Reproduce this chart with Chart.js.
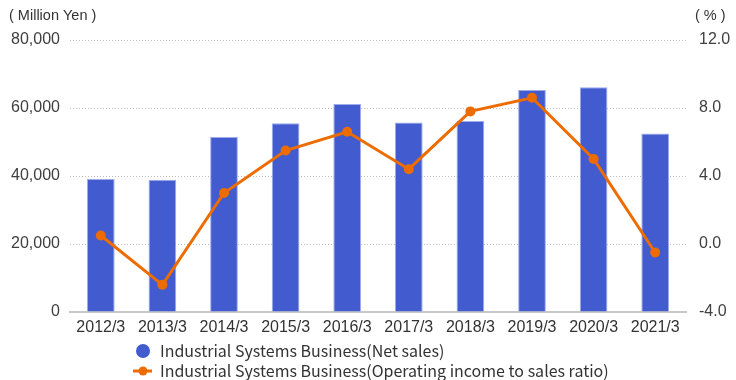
<!DOCTYPE html>
<html><head><meta charset="utf-8">
<script src="https://cdn.jsdelivr.net/npm/chart.js@4/dist/chart.umd.min.js"></script>
<style>html,body{margin:0;padding:0;background:#fff}#wrap{width:736px;height:380px}</style>
</head><body><div id="wrap"><canvas id="c" width="736" height="380"></canvas></div>
<script>
const categories = ['2012/3','2013/3','2014/3','2015/3','2016/3','2017/3','2018/3','2019/3','2020/3','2021/3'];
const netSales = [39100, 38900, 51500, 55500, 61200, 55700, 56200, 65300, 66100, 52500];
const opRatio = [0.5, -2.4, 3.0, 5.5, 6.6, 4.4, 7.8, 8.6, 5.0, -0.5];
const leftTicks = [0, 20000, 40000, 60000, 80000];
const rightTicks = [-4, 0, 4, 8, 12];
const seriesNames = ['Industrial Systems Business(Net sales)', 'Industrial Systems Business(Operating income to sales ratio)'];
const unitLabels = ['( Million Yen )', '( % )'];

const BAR = '#425CCF', BAR_BORDER = '#9DABEB', LINE = '#ED6C00';
const tickFont = {family: "'Liberation Sans', Arial, sans-serif", size: 16};

const extras = {
  id: 'extras',
  afterDraw(chart) {
    const ctx = chart.ctx;
    ctx.save();
    ctx.fillStyle = '#333';
    ctx.font = "14.5px 'Liberation Sans', Arial, sans-serif";
    ctx.textBaseline = 'middle';
    ctx.textAlign = 'left';
    ctx.fillText(unitLabels[0], 9, 16);
    ctx.fillText(unitLabels[1], 695, 16);
    // legend
    ctx.font = "16px 'Noto Sans CJK JP', 'Noto Sans', sans-serif";
    const lx = 143, tx = 160, y1 = 351, y2 = 371;
    ctx.beginPath(); ctx.arc(lx, y1, 7, 0, Math.PI * 2); ctx.fillStyle = BAR; ctx.fill();
    ctx.strokeStyle = LINE; ctx.lineWidth = 3;
    ctx.beginPath(); ctx.moveTo(133, y2); ctx.lineTo(152, y2); ctx.stroke();
    ctx.beginPath(); ctx.arc(lx, y2, 4.5, 0, Math.PI * 2); ctx.fillStyle = LINE; ctx.fill();
    ctx.fillStyle = '#333';
    ctx.fillText(seriesNames[0], tx, y1);
    ctx.fillText(seriesNames[1], tx, y2);
    ctx.restore();
  }
};

new Chart(document.getElementById('c'), {
  data: {
    labels: categories,
    datasets: [
      {type: 'line', label: seriesNames[1], data: opRatio, yAxisID: 'y1', borderColor: LINE, backgroundColor: LINE,
       borderWidth: 3, pointRadius: 5, pointHoverRadius: 5, pointBackgroundColor: LINE, pointBorderWidth: 0, tension: 0, order: 0},
      {type: 'bar', label: seriesNames[0], data: netSales, yAxisID: 'y', backgroundColor: BAR, borderColor: BAR_BORDER,
       borderWidth: 1, barPercentage: 0.45, categoryPercentage: 1, order: 1}
    ]
  },
  options: {
    responsive: false, animation: false, devicePixelRatio: 1,
    layout: {padding: {top: 40, bottom: 40, left: 0, right: 0}},
    plugins: {legend: {display: false}, tooltip: {enabled: false}},
    scales: {
      x: {
        grid: {display: false, drawTicks: false},
        border: {display: true, color: '#c8c8c8', width: 2},
        ticks: {color: '#333', font: tickFont, padding: 6, maxRotation: 0, autoSkip: false},
        afterFit(s) { s.height = 28; }
      },
      y: {
        position: 'left', min: leftTicks[0], max: leftTicks[leftTicks.length - 1],
        afterBuildTicks(s) { s.ticks = leftTicks.map(v => ({value: v})); },
        ticks: {color: '#404040', font: tickFont, padding: 10, callback: v => v.toLocaleString('en-US')},
        grid: {drawTicks: false, lineWidth: 1, color: c => c.tick && c.tick.value === 0 ? 'rgba(0,0,0,0)' : '#bdbdbd'},
        border: {display: false, dash: [1, 2]},
        afterFit(s) { s.width = 70; }
      },
      y1: {
        position: 'right', min: rightTicks[0], max: rightTicks[rightTicks.length - 1],
        afterBuildTicks(s) { s.ticks = rightTicks.map(v => ({value: v})); },
        ticks: {color: '#404040', font: tickFont, padding: 13, callback: v => Number(v).toFixed(1)},
        grid: {display: false, drawTicks: false},
        border: {display: false},
        afterFit(s) { s.width = 50; }
      }
    }
  },
  plugins: [extras]
});
</script>
</body></html>
